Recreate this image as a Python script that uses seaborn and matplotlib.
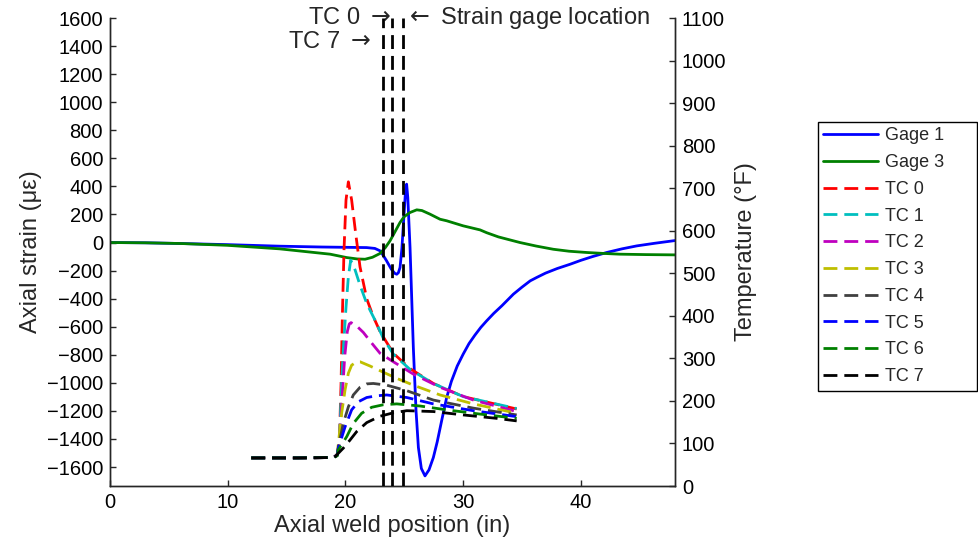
import matplotlib
matplotlib.use("Agg")
import matplotlib.pyplot as plt
import seaborn as sns

# ---------------- data ----------------
# Strain gages: axial strain (microstrain) vs axial weld position (in)
gage1_pos = [0, 3, 6, 10, 14.4, 18, 21.8, 22.5, 22.94, 23.2, 23.5, 23.9, 24.2, 24.36,
             24.5, 24.64, 24.8, 24.98, 25.1, 25.2, 25.3, 25.49, 25.77, 26.0, 26.2,
             26.45, 26.76, 27.1, 27.47, 27.8, 28.2, 28.6, 29.0, 29.5, 30.0, 30.5,
             31.0, 31.5, 32.0, 32.6, 33.3, 34.27, 35.0, 35.7, 36.25, 37.0, 38.0,
             39.08, 40.0, 41.0, 42.2, 43.5, 44.75, 46.3, 48]
gage1_strain = [0, -2, -7, -15, -26, -32, -36, -42, -59, -90, -131, -190, -220, -226,
                -215, -178, -40, 202, 360, 416, 320, -36, -748, -1200, -1461,
                -1610, -1663, -1620, -1532, -1420, -1260, -1105, -990, -880, -796, -720,
                -660, -605, -558, -505, -450, -368, -318, -273, -249, -218, -185,
                -155, -127, -100, -71, -45, -24, -5, 14]

gage3_pos = [0, 3, 6, 10, 14.4, 17, 18.7, 20.1, 21.0, 21.67, 22.3, 22.94, 23.4, 23.79,
             24.2, 24.64, 25.0, 25.49, 26.06, 26.5, 27.19, 28.04, 28.6, 30.0, 31.44,
             32.0, 33.0, 34.83, 36.2, 37.66, 39.0, 40.5, 42.0, 43.3, 45.5, 48]
gage3_strain = [0, -2, -7, -20, -45, -68, -83, -107, -117, -119, -105, -78, -35, 12,
                75, 143, 185, 214, 233, 228, 202, 166, 155, 119, 90,
                70, 40, 0, -25, -48, -62, -71, -78, -83, -86, -88]

# Thermocouples: temperature (deg F) vs axial weld position (in)
tc0_pos = [12.0, 16.0, 19.0, 19.3, 19.48, 19.63, 19.74, 19.88, 20.05, 20.25, 20.53,
           20.87, 21.24, 21.81, 22.37, 22.94, 24.07, 25.49, 27.47, 30.02, 34.55]
tc0_temp = [66, 66, 67, 74, 100, 241, 398, 555, 672, 715, 672,
            594, 515, 440, 398, 363, 312, 276, 241, 210, 181]

tc1_pos = [12.0, 16.0, 19.0, 19.3, 19.48, 19.68, 19.82, 20.05, 20.25, 20.45, 20.82,
           21.24, 21.81, 22.51, 23.22, 24.07, 25.49, 27.47, 30.02, 34.55]
tc1_temp = [66, 66, 67, 74, 100, 241, 320, 420, 492, 531, 508,
            472, 429, 390, 347, 310, 274, 241, 210, 182]

tc2_pos = [12.0, 16.0, 19.0, 19.3, 19.48, 19.71, 19.94, 20.16, 20.33, 20.48, 20.96,
           21.52, 22.23, 22.94, 24.07, 25.77, 28.04, 30.87, 34.55]
tc2_temp = [66, 66, 67, 74, 100, 202, 304, 363, 381, 384, 376,
            361, 336, 312, 292, 263, 232, 202, 175]

tc3_pos = [12.0, 16.0, 19.0, 19.3, 19.40, 19.68, 19.97, 20.25, 20.53, 20.96, 21.24,
           22.09, 22.94, 24.36, 25.77, 28.04, 30.87, 34.55]
tc3_temp = [66, 66, 67, 72, 100, 171, 226, 265, 284, 292, 292,
            282, 271, 253, 237, 214, 193, 171]

tc4_pos = [12.0, 16.0, 19.0, 19.3, 19.40, 19.82, 20.25, 20.67, 21.24, 21.81, 22.37,
           23.51, 25.21, 27.47, 30.87, 34.55]
tc4_temp = [66, 66, 67, 72, 92, 147, 186, 214, 232, 240, 241,
            237, 224, 202, 183, 167]

tc5_pos = [12.0, 16.0, 19.0, 19.3, 19.40, 19.97, 20.53, 21.10, 21.81, 22.66, 23.51,
           25.21, 27.47, 30.87, 34.55]
tc5_temp = [66, 66, 67, 72, 89, 139, 179, 198, 208, 212, 214,
            208, 193, 177, 163]

tc6_pos = [12.0, 16.0, 19.0, 19.3, 19.40, 20.11, 20.67, 21.38, 22.23, 23.22, 24.36,
           26.34, 28.60, 31.44, 34.55]
tc6_temp = [66, 66, 67, 71, 85, 116, 147, 171, 185, 191, 193,
            188, 179, 169, 159]

tc7_pos = [12.0, 16.0, 19.0, 19.12, 19.82, 20.39, 20.96, 21.81, 22.94, 24.07, 25.21,
           27.47, 30.02, 32.85, 34.55]
tc7_temp = [66, 66, 67, 69, 89, 108, 128, 149, 164, 172, 177,
            175, 167, 159, 153]

# Thermocouple / gage locations along the weld (in)
marker_pos = [23.17, 23.98, 24.86]

gage_labels = ["Gage 1", "Gage 3"]
tc_labels = ["TC 0", "TC 1", "TC 2", "TC 3", "TC 4", "TC 5", "TC 6", "TC 7"]

# ---------------- style ----------------
sns.set_style("ticks")
plt.rcParams["font.family"] = ["Liberation Sans", "DejaVu Sans"]
plt.rcParams["mathtext.fontset"] = "dejavusans"
plt.rcParams["axes.edgecolor"] = "#262626"

gage_colors = ["#0000ff", "#008000"]
tc_colors = ["#ff0000", "#00bfbf", "#bf00bf", "#bfbf00", "#404040",
             "#0000ff", "#008000", "#000000"]
LW = 2.0
DASH = (5, 2.5)

fig = plt.figure(figsize=(9.79, 5.43), dpi=100)
ax = fig.add_axes([110 / 979, 1 - 486 / 543, 565 / 979, 468 / 543])
ax2 = ax.twinx()

gage_series = [(gage1_pos, gage1_strain), (gage3_pos, gage3_strain)]
for (xs, ys), lab, col in zip(gage_series, gage_labels, gage_colors):
    sns.lineplot(x=xs, y=ys, ax=ax, color=col, linewidth=LW, label=lab,
                 estimator=None, sort=False)

tc_series = [(tc0_pos, tc0_temp), (tc1_pos, tc1_temp), (tc2_pos, tc2_temp),
             (tc3_pos, tc3_temp), (tc4_pos, tc4_temp), (tc5_pos, tc5_temp),
             (tc6_pos, tc6_temp), (tc7_pos, tc7_temp)]
for (xs, ys), lab, col in zip(tc_series, tc_labels, tc_colors):
    sns.lineplot(x=xs, y=ys, ax=ax2, color=col, linewidth=LW, label=lab,
                 estimator=None, sort=False, linestyle="--")
for ln in ax2.get_lines():
    ln.set_dashes(DASH)

for xp in marker_pos:
    ax2.axvline(xp, color="black", linewidth=LW, dashes=DASH, zorder=5)

for a in (ax, ax2):
    leg = a.get_legend()
    if leg is not None:
        leg.remove()

# ---------------- axes ----------------
ax.set_xlim(0, 48)
ax.set_ylim(-1735, 1600)
ax2.set_ylim(0, 1100)
ax.set_xticks([0, 10, 20, 30, 40])
ax.set_yticks(range(-1600, 1601, 200))
ax2.set_yticks(range(0, 1101, 100))

ax.spines["top"].set_visible(False)
ax2.spines["top"].set_visible(False)
for a in (ax, ax2):
    for s in a.spines.values():
        s.set_linewidth(1.0)
ax.tick_params(axis="both", direction="in", length=4, width=1, labelsize=14.5,
               pad=5, colors="#262626", labelcolor="black")
ax2.tick_params(axis="y", direction="in", length=4, width=1, labelsize=14.5,
                pad=5, colors="#262626", labelcolor="black")

ax.set_xlabel("Axial weld position (in)", fontsize=17)
ax.set_ylabel("Axial strain (\u03bc\u03b5)", fontsize=17)
ax2.set_ylabel("Temperature (\u00b0F)", fontsize=17)
ax.xaxis.set_label_coords(0.5, -0.062)
ax.yaxis.set_label_coords(-0.12, 0.5)
ax2.yaxis.set_label_coords(1.106, 0.5)

# location annotations above the plot
xform = ax2.get_xaxis_transform()
ax2.text(23.87, 1.0, r"TC 0 $\rightarrow$", transform=xform,
         ha="right", va="center", fontsize=17, clip_on=False)
ax2.text(22.17, 0.9487, r"TC 7 $\rightarrow$", transform=xform,
         ha="right", va="center", fontsize=17, clip_on=False)
ax2.text(25.06, 1.0, r"$\leftarrow$ Strain gage location", transform=xform,
         ha="left", va="center", fontsize=17, clip_on=False)

# ---------------- legend ----------------
handles = ax.get_lines()[:2] + ax2.get_lines()[:8]
labels = gage_labels + tc_labels
fig.legend(handles, labels, loc="upper left",
           bbox_to_anchor=(818 / 979, 1 - 389 / 543, 159 / 979, 267 / 543),
           mode="expand", fontsize=13, frameon=True, fancybox=False,
           edgecolor="black", framealpha=1, handlelength=3.0, handletextpad=0.4,
           labelspacing=0.54, borderpad=0.3, borderaxespad=0)

fig.savefig("out.png", dpi=100)
